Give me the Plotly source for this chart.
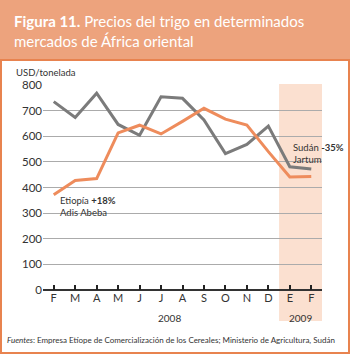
import plotly.graph_objects as go

months = ["F", "M", "A", "M", "J", "J", "A", "S", "O", "N", "D", "E", "F"]
sudan_jartum = [735, 673, 768, 646, 604, 754, 748, 664, 532, 568, 640, 481, 472]
etiopia_adis = [372, 427, 435, 613, 643, 609, 658, 709, 667, 644, 540, 441, 443]
y_ticks = [0, 100, 200, 300, 400, 500, 600, 700, 800]

W, H = 350, 354
L, R, T, B = 43, 28, 85, 64
pw, ph = W - L - R, H - T - B

def px(x):
    return (x - L) / pw

def py(y):
    return (H - B - y) / ph

header_fill = "#EDA37D"
border = "#E8834F"
shade = "#FBE0D0"
grey = "#7B7B7B"
orange = "#EE8C5C"
txt = "#333333"
font = "Lato"

xs = list(range(len(months)))

fig = go.Figure()
fig.add_trace(go.Scatter(x=xs, y=sudan_jartum, mode="lines",
                         line=dict(color=grey, width=3), showlegend=False))
fig.add_trace(go.Scatter(x=xs, y=etiopia_adis, mode="lines",
                         line=dict(color=orange, width=3), showlegend=False))

shapes = [
    dict(type="rect", xref="paper", yref="paper", x0=px(0), x1=px(W), y0=py(59), y1=py(0),
         fillcolor=header_fill, line=dict(width=0), layer="below"),
    dict(type="rect", xref="paper", yref="paper", x0=px(1), x1=px(349), y0=py(353), y1=py(60),
         fillcolor="rgba(0,0,0,0)", line=dict(color=border, width=2)),
    dict(type="rect", xref="x", yref="paper", x0=10.5, x1=12.5, y0=py(321), y1=py(84),
         fillcolor=shade, line=dict(width=0), layer="below"),
]

annotations = [
    dict(xref="paper", yref="paper", x=px(12), y=py(10), xanchor="left", yanchor="top",
         align="left", showarrow=False,
         text="<b>Figura 11.</b> Precios del trigo en determinados<br>mercados de África oriental",
         font=dict(family=font, size=15, color="white")),
    dict(xref="paper", yref="paper", x=px(14), y=py(73), xanchor="left", yanchor="middle",
         showarrow=False, text="USD/tonelada", font=dict(family=font, size=9.5, color=txt)),
    dict(xref="x", yref="y", x=0.2, y=325, xanchor="left", yanchor="middle", align="left",
         showarrow=False, text="Etiopía <b>+18%</b><br>Adis Abeba",
         font=dict(family=font, size=9.5, color=txt)),
    dict(xref="x", yref="y", x=11.05, y=532, xanchor="left", yanchor="middle", align="left",
         showarrow=False, text="Sudán <b>-35%</b><br>Jartum",
         font=dict(family=font, size=9.5, color=txt)),
    dict(xref="x", yref="paper", x=5.4, y=py(318), xanchor="center", yanchor="middle",
         showarrow=False, text="2008", font=dict(family=font, size=10, color=txt)),
    dict(xref="x", yref="paper", x=11.5, y=py(318), xanchor="center", yanchor="middle",
         showarrow=False, text="2009", font=dict(family=font, size=10, color=txt)),
    dict(xref="paper", yref="paper", x=px(5), y=py(340), xanchor="left", yanchor="middle",
         showarrow=False,
         text="<i>Fuentes</i>: Empresa Etíope de Comercialización de los Cereales; Ministerio de Agricultura, Sudán",
         font=dict(family=font, size=8, color=txt)),
]

fig.update_layout(
    width=W, height=H,
    margin=dict(l=L, r=R, t=T, b=B, pad=0),
    paper_bgcolor="white", plot_bgcolor="rgba(0,0,0,0)",
    shapes=shapes, annotations=annotations,
    xaxis=dict(range=[-0.5, 12.5], tickmode="array", tickvals=xs, ticktext=months,
               showgrid=False, zeroline=False, showline=False,
               ticks="inside", ticklen=5, tickwidth=2, tickcolor="#222",
               tickfont=dict(family=font, size=11, color=txt), fixedrange=True),
    yaxis=dict(range=[0, 800], tickvals=y_ticks, showgrid=True, gridcolor="#ABABAB",
               gridwidth=1, zeroline=True, zerolinecolor="#333", zerolinewidth=2,
               showline=False, ticks="", tickfont=dict(family=font, size=11.5, color=txt),
               fixedrange=True),
)

# page body has a default 8px margin; drop it so the figure sits at the corner
fig.write_html("out.html", config={"displayModeBar": False},
               post_script="document.body.style.margin='0';document.body.style.overflow='hidden';")
